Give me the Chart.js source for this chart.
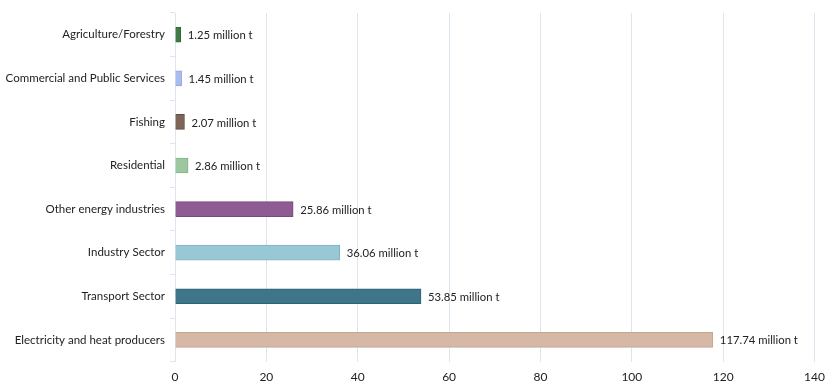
<!DOCTYPE html>
<html>
<head>
<meta charset="utf-8">
<script src="https://cdn.jsdelivr.net/npm/chart.js@4/dist/chart.umd.min.js"></script>
<style>
html,body{margin:0;padding:0;background:#fff;}
#wrap{width:833px;height:392px;position:relative;}
</style>
</head>
<body>
<div id="wrap"><canvas id="c"></canvas></div>
<script>
const categories = ["Agriculture/Forestry","Commercial and Public Services","Fishing","Residential","Other energy industries","Industry Sector","Transport Sector","Electricity and heat producers"];
const values = [1.25, 1.45, 2.07, 2.86, 25.86, 36.06, 53.85, 117.74];
const unitSuffix = " million t";
const barColors = ["#3f7d48","#a9bcf0","#7b6659","#9dc89f","#8f5b93","#98c7d5","#3e7588","#d5b9a6"];
const borderColors = ["#2f6638","#8fa6e0","#5f4d42","#85b487","#774a7b","#7fb3c3","#2e6376","#c3a692"];
const xTicks = [0,20,40,60,80,100,120,140];

const FONT = "'Source Sans Pro', 'Lato', sans-serif";

const labelPlugin = {
  id: 'valueLabels',
  afterDatasetsDraw(chart) {
    const ctx = chart.ctx;
    const meta = chart.getDatasetMeta(0);
    ctx.save();
    ctx.font = "11.3px " + FONT;
    ctx.fillStyle = "#222";
    ctx.textBaseline = "middle";
    ctx.textAlign = "left";
    meta.data.forEach((bar, i) => {
      ctx.fillText(values[i].toFixed(2) + unitSuffix, bar.x + 7, bar.y + 1);
    });
    ctx.restore();
  }
};

new Chart(document.getElementById('c'), {
  type: 'bar',
  data: {
    labels: categories,
    datasets: [{
      data: values,
      backgroundColor: barColors,
      borderColor: borderColors,
      borderWidth: 1,
      barThickness: 15
    }]
  },
  options: {
    indexAxis: 'y',
    responsive: true,
    maintainAspectRatio: false,
    animation: false,
    layout: { padding: { top: 13, right: 15, left: 0, bottom: 0 } },
    plugins: { legend: { display: false }, tooltip: { enabled: false } },
    scales: {
      x: {
        min: 0, max: 140,
        afterBuildTicks(scale) { scale.ticks = xTicks.map(v => ({ value: v })); },
        grid: { color: "#dde6ee", drawTicks: false, lineWidth: 1 },
        border: { display: false },
        ticks: { color: "#222", font: { size: 12, family: FONT }, padding: 8 }
      },
      y: {
        afterFit(scale) { scale.width = 175; },
        grid: { display: true, drawOnChartArea: false, color: "#dde6ee", tickLength: 5, offset: true },
        border: { display: true, color: "#dde6ee" },
        ticks: { color: "#222", font: { size: 11.5, family: FONT }, padding: 5 }
      }
    }
  },
  plugins: [labelPlugin]
});
</script>
</body>
</html>
